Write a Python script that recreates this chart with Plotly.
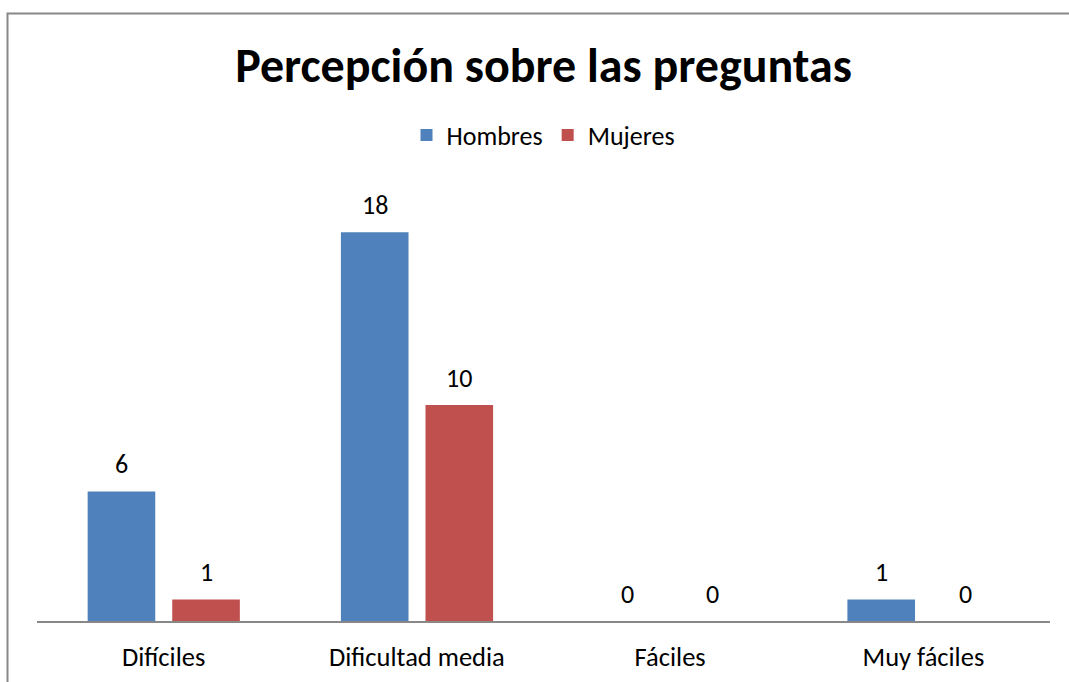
import plotly.graph_objects as go

categories = ["Difíciles", "Dificultad media", "Fáciles", "Muy fáciles"]
hombres = [6, 18, 0, 1]
mujeres = [1, 10, 0, 0]
series_names = ["Hombres", "Mujeres"]
colors = ["#4F81BD", "#C0504D"]

FONT = "Carlito, Lato, sans-serif"
W, H = 1069, 682
L, R, T, B = 37, 19, 189, 61
pw = W - L - R
ph = H - T - B

bar_w = 0.267
offsets = [-0.3, 0.034]

fig = go.Figure()
for name, vals, col, off in zip(series_names, [hombres, mujeres], colors, offsets):
    fig.add_trace(go.Bar(
        x=categories, y=vals, name=name, marker_color=col, marker_line_width=0,
        width=bar_w, offset=off,
    ))
    for i, v in enumerate(vals):
        fig.add_annotation(
            x=i + off + bar_w / 2, y=v, text=str(v), showarrow=False,
            yshift=27, font=dict(family=FONT, size=26, color="#000000"),
            xref="x", yref="y",
        )

def px_x(p):
    return (p - L) / pw

def px_y(p):
    return 1 - (p - T) / ph

fig.add_shape(type="rect", xref="paper", yref="paper",
              x0=px_x(7.5), x1=px_x(1075), y0=px_y(13.5), y1=px_y(690),
              line=dict(color="#888888", width=2), fillcolor="rgba(0,0,0,0)", layer="below")

fig.update_layout(
    width=W, height=H,
    margin=dict(l=L, r=R, t=T, b=B, autoexpand=False),
    paper_bgcolor="white", plot_bgcolor="white",
    barmode="overlay",
    showlegend=True,
    title=dict(text="<b>Percepción sobre las preguntas</b>", x=0.5, xanchor="center",
               xref="paper", y=1 - 65 / H, yanchor="middle",
               font=dict(family=FONT, size=48, color="#000000")),
    legend=dict(orientation="h", x=0.5, xanchor="center", xref="paper",
                y=px_y(135), yanchor="middle", font=dict(family=FONT, size=26, color="#000000"),
                itemwidth=30, traceorder="normal"),
    font=dict(family=FONT, color="#000000"),
)
fig.update_xaxes(showline=True, linecolor="#888888", linewidth=2, showgrid=False,
                 ticks="", tickfont=dict(family=FONT, size=26.5, color="#000000"),
                 ticklabelstandoff=11, zeroline=False)
fig.update_yaxes(range=[0, 20], visible=False, showgrid=False, zeroline=False)

fig.write_html("out.html", config={"displayModeBar": False},
               post_script="document.body.style.margin='0';document.body.style.overflow='hidden';")
